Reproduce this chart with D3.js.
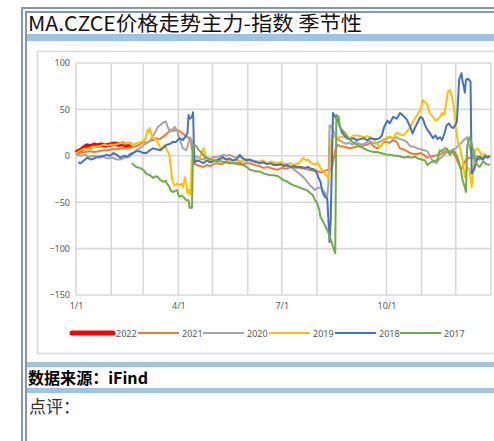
<!DOCTYPE html>
<html><head><meta charset="utf-8">
<script src="https://cdn.jsdelivr.net/npm/d3@7"></script>
<style>html,body{margin:0;padding:0;background:#fff;}svg{display:block;}</style>
</head><body>
<script>
// ---- data (day of year, value) ----
const seriesNames = ["2022","2021","2020","2019","2018","2017"];
const seriesColors = ["#ff0000","#ed7d31","#a5a5a5","#ffc000","#4472c4","#70ad47"];
const yTicks = [100,50,0,-50,-100,-150];
const xTickDays = [0,90,181,273];
const xTickLabels = ["1/1","4/1","7/1","10/1"];
const gridDays = [0,31,59,90,120,151,181,212,273,304,334,365];

const s2022 = [[0,3],[2,5],[4,6],[7,9],[10,11],[13,10],[16,12],[19,11],[22,12],[26,11],[30,12],[34,13],[38,12],[41,13],[44,11],[47,12],[49,12]];

const s2021 = [[0,1],[4,3],[8,4],[12,5],[16,4],[20,5],[24,6],[28,6],[32,7],[36,7],[40,8],[44,8],[48,9],[52,10],[56,12],[59,15],[62,14],[65,16],[68,17],[71,19],[74,18],[77,21],[80,24],[83,28],[86,27],[89,28],[92,26],[94,24],[96,22],[98,20],[101,18],[103,-8],[106,-10],[109,-11],[112,-12],[115,-10],[118,-11],[121,-9],[124,-8],[128,-9],[132,-7],[135,-7],[139,-8],[143,-7],[147,-9],[150,-8],[153,-8],[157,-10],[161,-11],[165,-13],[169,-12],[173,-14],[177,-15],[181,-13],[185,-14],[189,-12],[193,-13],[197,-13],[201,-14],[205,-15],[209,-16],[213,-17],[216,-18],[219,-16],[222,-15],[225,-14],[228,6],[230,12],[233,10],[235,10],[238,9],[241,8],[244,9],[247,10],[250,10],[253,11],[256,12],[259,14],[262,10],[265,8],[268,10],[270,14],[273,15],[276,14],[279,17],[282,15],[285,8],[288,7],[291,5],[294,3],[297,2],[300,2],[303,3],[306,1],[309,-2],[312,-1],[315,0],[318,1],[321,2],[324,4],[326,6],[329,5],[332,3],[335,-4],[337,-10],[339,-15],[341,-9],[343,-4],[346,-2],[349,-3],[352,-2],[355,-4],[358,-2],[361,-1],[364,-1]];

const s2020 = [[0,2],[4,0],[8,1],[12,-1],[16,0],[20,-2],[24,-1],[28,-3],[32,-2],[36,-4],[39,-4],[43,-2],[47,-1],[50,2],[53,6],[57,9],[60,12],[64,15],[67,20],[70,26],[72,31],[75,34],[77,36],[79,37],[81,30],[83,26],[85,29],[87,31],[89,27],[90,22],[92,15],[94,8],[96,7],[97,6],[99,14],[100,20],[102,16],[104,-1],[106,-1],[109,-3],[112,-4],[115,-2],[118,-3],[121,-1],[124,-2],[127,0],[130,1],[133,0],[135,1],[138,-1],[141,-2],[144,-1],[147,-3],[150,-4],[153,-5],[156,-5],[159,-6],[162,-7],[165,-7],[168,-8],[171,-8],[174,-9],[177,-9],[180,-10],[183,-10],[186,-11],[188,-12],[191,-14],[194,-17],[197,-20],[200,-23],[202,-26],[204,-29],[206,-32],[208,-34],[210,-37],[212,-35],[215,-34],[217,-37],[219,-40],[221,-44],[222,-30],[223,33],[225,31],[227,25],[229,20],[231,17],[234,15],[237,13],[240,14],[243,12],[246,15],[249,13],[252,12],[255,14],[258,16],[261,14],[264,13],[267,15],[270,17],[273,18],[276,20],[279,19],[282,20],[285,18],[288,17],[291,15],[294,10],[297,10],[300,8],[303,7],[306,6],[309,5],[312,-2],[314,-6],[317,-8],[319,-4],[322,-1],[325,3],[328,4],[331,6],[334,8],[337,12],[339,14],[341,17],[343,19],[344,20],[346,10],[348,2],[350,-2],[353,0],[356,-3],[359,-1],[362,-2],[364,0]];

const s2019 = [[0,3],[3,5],[6,7],[10,8],[13,9],[16,10],[19,10],[22,11],[25,12],[28,11],[31,12],[34,12],[37,13],[40,14],[43,13],[46,14],[49,12],[52,13],[55,14],[58,15],[61,18],[63,28],[64,26],[65,30],[67,20],[69,19],[71,17],[73,12],[75,6],[77,10],[78,12],[80,6],[82,2],[83,-8],[85,-28],[87,-32],[89,-30],[91,-32],[93,-30],[94,-34],[96,-23],[97,-30],[98,-40],[99,-36],[100,-42],[101,-38],[102,5],[104,-2],[106,-6],[108,-5],[110,2],[112,8],[114,0],[117,-4],[120,-3],[124,-5],[128,-3],[132,-4],[136,-6],[140,-4],[144,-5],[148,-6],[152,-4],[156,-6],[160,-7],[164,-5],[168,-8],[172,-6],[176,-8],[180,-7],[184,-9],[188,-8],[192,-10],[196,-8],[200,-2],[202,-5],[204,-4],[207,-8],[210,-9],[213,-8],[215,-13],[217,-16],[219,-19],[222,-24],[223,-15],[225,22],[228,20],[230,19],[233,21],[235,20],[238,21],[241,19],[244,22],[247,22],[250,21],[253,20],[256,21],[259,20],[262,17],[265,14],[267,9],[269,12],[271,18],[274,20],[276,21],[279,19],[282,25],[285,23],[288,22],[291,26],[294,31],[297,38],[300,44],[303,50],[305,60],[307,58],[309,55],[311,46],[314,42],[316,38],[318,39],[320,42],[322,46],[324,44],[326,60],[327,69],[329,71],[331,62],[333,46],[334,31],[336,14],[338,8],[339,0],[340,-4],[342,-23],[344,-12],[346,-15],[348,-34],[349,-20],[351,6],[353,8],[355,5],[357,-1],[359,2],[362,0],[364,-1]];

const s2018 = [[2,-7],[4,-8],[7,-5],[10,-2],[13,-4],[16,-3],[19,-1],[21,-1],[24,0],[27,1],[30,0],[33,3],[36,1],[39,-2],[42,0],[45,-1],[48,2],[50,3],[53,5],[56,5],[59,3],[62,3],[65,6],[68,8],[71,7],[74,6],[77,9],[80,12],[83,13],[85,15],[88,15],[91,19],[94,17],[96,20],[98,24],[99,44],[100,40],[102,42],[103,47],[104,-8],[106,-5],[109,-6],[112,-8],[115,-5],[118,-7],[121,-6],[124,-5],[127,-3],[129,-1],[132,-4],[135,-3],[138,-5],[141,-4],[144,1],[147,-3],[150,-5],[153,-4],[156,-6],[159,-7],[162,-8],[165,-7],[168,-9],[171,-8],[174,-10],[177,-10],[180,-9],[183,-11],[186,-10],[189,-12],[192,-11],[195,-12],[198,-12],[201,-13],[204,-12],[207,-14],[210,-15],[212,-19],[213,-23],[215,-28],[216,-34],[217,-40],[219,-44],[221,-46],[222,-69],[223,-93],[224,-70],[226,46],[228,42],[230,39],[232,32],[234,25],[236,22],[238,19],[241,18],[244,19],[247,17],[250,18],[253,19],[256,17],[259,19],[262,18],[265,18],[267,19],[269,22],[271,31],[274,38],[276,35],[279,42],[282,40],[285,46],[288,43],[291,39],[294,31],[296,24],[298,30],[300,35],[303,42],[305,40],[307,33],[309,28],[311,25],[314,19],[316,22],[318,18],[320,20],[322,17],[324,24],[326,33],[328,35],[330,31],[332,30],[334,34],[335,37],[336,60],[337,82],[339,89],[340,80],[341,75],[342,68],[343,82],[345,83],[347,80],[348,-19],[350,-15],[353,-3],[355,-1],[358,-4],[360,0],[362,-2],[364,0]];

const s2017 = [[49,-8],[51,-10],[53,-12],[56,-13],[59,-15],[61,-18],[63,-20],[65,-21],[68,-24],[70,-22],[72,-23],[74,-26],[77,-28],[79,-27],[80,-30],[82,-33],[83,-37],[85,-39],[87,-38],[89,-37],[90,-42],[91,-44],[93,-43],[95,-45],[97,-48],[99,-48],[100,-56],[102,-56],[103,10],[104,12],[106,10],[108,6],[110,4],[113,-1],[116,-3],[118,-4],[121,-5],[124,-6],[128,-6],[132,-7],[135,-8],[139,-8],[143,-9],[147,-10],[150,-12],[153,-15],[156,-16],[159,-17],[162,-17],[165,-19],[168,-20],[171,-21],[174,-21],[178,-22],[182,-26],[186,-28],[190,-31],[194,-33],[198,-35],[203,-37],[206,-40],[208,-42],[210,-47],[212,-51],[214,-58],[215,-66],[217,-70],[219,-75],[221,-80],[223,-86],[225,-94],[226,-98],[228,-105],[229,44],[231,42],[232,31],[234,28],[237,24],[239,20],[241,17],[244,14],[247,12],[250,10],[253,8],[256,6],[259,5],[262,4],[265,4],[268,3],[271,2],[274,1],[277,1],[280,0],[283,0],[286,-1],[289,-2],[292,-1],[295,-2],[298,-1],[301,-3],[304,-4],[307,-5],[309,-10],[311,-8],[314,-6],[317,-5],[318,-4],[320,6],[322,5],[324,8],[326,8],[328,3],[329,1],[331,6],[333,4],[335,0],[336,-4],[338,-12],[339,-19],[340,-26],[342,-34],[343,-39],[344,10],[346,20],[347,18],[349,8],[351,-5],[353,-10],[355,-12],[358,-6],[361,-9],[364,-10]];

const seriesData = [s2022, s2021, s2020, s2019, s2018, s2017];

// ---- drawing ----
const W = 494, H = 441;
const svg = d3.select("body").append("svg").attr("width", W).attr("height", H);
const frame = "#8497b0", band = "#9dc3e6";

// outer double frame
svg.append("rect").attr("x",21).attr("y",7).attr("width",W).attr("height",2).attr("fill",frame);
svg.append("rect").attr("x",25).attr("y",11).attr("width",W).attr("height",2).attr("fill",frame);
svg.append("rect").attr("x",21).attr("y",7).attr("width",2).attr("height",H).attr("fill",frame);
svg.append("rect").attr("x",25).attr("y",11).attr("width",2).attr("height",H).attr("fill",frame);

// title
svg.append("text").attr("x",28).attr("y",31).attr("fill","#111").attr("font-size",20)
  .attr("font-family","Noto Sans CJK SC").attr("textLength",334).attr("lengthAdjust","spacingAndGlyphs")
  .text("MA.CZCE价格走势主力-指数 季节性");

// blue bands
svg.append("rect").attr("x",27).attr("y",34).attr("width",W).attr("height",7).attr("fill",band);
svg.append("rect").attr("x",27).attr("y",362).attr("width",W).attr("height",5).attr("fill",band);
svg.append("rect").attr("x",27).attr("y",388).attr("width",W).attr("height",5).attr("fill",band);

// chart box
svg.append("rect").attr("x",37.5).attr("y",51.5).attr("width",W).attr("height",302).attr("fill","#fff").attr("stroke","#d9d9d9").attr("stroke-width",1.5);

const x = d3.scaleLinear().domain([0,365]).range([76,491]);
const y = d3.scaleLinear().domain([-150,100]).range([295,63]);

const grid = svg.append("g");
grid.selectAll("line.h").data(yTicks).join("line").attr("class","h")
  .attr("x1",x(0)).attr("x2",x(365)).attr("y1",d=>y(d)).attr("y2",d=>y(d))
  .attr("stroke","#d9d9d9").attr("stroke-width",1.6);
grid.selectAll("line.v").data(gridDays).join("line").attr("class","v")
  .attr("x1",d=>x(d)).attr("x2",d=>x(d)).attr("y1",y(100)).attr("y2",y(-150))
  .attr("stroke","#d9d9d9").attr("stroke-width",1.6);

// axes labels
const yAxis = d3.axisLeft(y).tickValues(yTicks).tickSize(0).tickPadding(6);
const gy = svg.append("g").attr("transform",`translate(${x(0)},0)`).call(yAxis);
gy.select(".domain").remove();
gy.selectAll("text").attr("font-family","Noto Sans").attr("font-size",9).attr("fill","#595959");

const xAxis = d3.axisBottom(x).tickValues(xTickDays).tickSize(0).tickPadding(8)
  .tickFormat((d,i)=>xTickLabels[i]);
const gx = svg.append("g").attr("transform",`translate(0,${y(-150)})`).call(xAxis);
gx.select(".domain").remove();
gx.selectAll("text").attr("font-family","Noto Sans").attr("font-size",9).attr("fill","#595959");

// series
const line = d3.line().x(d=>x(d[0])).y(d=>y(d[1]));
seriesData.forEach((s,i)=>{
  svg.append("path").datum(s).attr("d",line).attr("fill","none")
    .attr("stroke",seriesColors[i]).attr("stroke-width", i===0 ? 4.5 : 2)
    .attr("stroke-linejoin","round");
});

// legend
const legX = [72,138,203,269,335,400];
const leg = svg.append("g");
seriesNames.forEach((n,i)=>{
  leg.append("line").attr("x1",legX[i]).attr("x2",legX[i]+41).attr("y1",333).attr("y2",333)
    .attr("stroke",seriesColors[i]).attr("stroke-width", i===0 ? 5 : 2).attr("stroke-linecap", i===0 ? "round":"butt");
  leg.append("text").attr("x",legX[i]+44).attr("y",336.5).attr("font-family","Noto Sans")
    .attr("font-size",9).attr("fill","#595959").text(n);
});

// source + comment
svg.append("text").attr("x",28).attr("y",384).attr("font-size",16).attr("font-weight","bold").attr("fill","#000")
  .attr("font-family","Noto Sans CJK SC").attr("textLength",120).attr("lengthAdjust","spacingAndGlyphs")
  .text("数据来源：iFind");

svg.append("text").attr("x",29).attr("y",413).attr("font-size",17).attr("font-family","Noto Sans CJK SC").attr("fill","#333").text("点评：");
</script>
</body></html>
